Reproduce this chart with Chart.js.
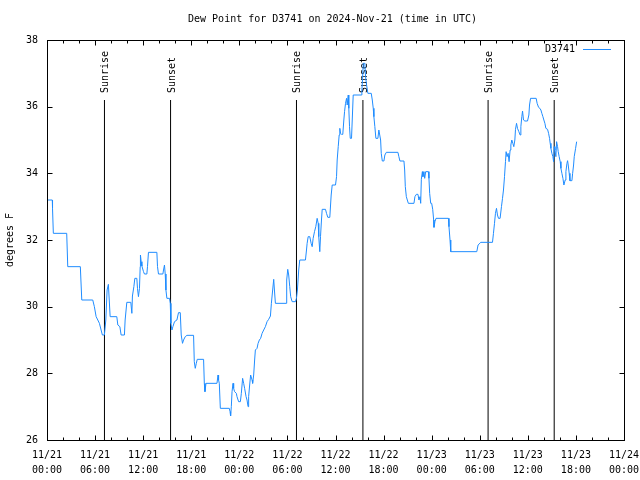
<!DOCTYPE html>
<html><head><meta charset="utf-8">
<script src="https://cdn.jsdelivr.net/npm/chart.js@4/dist/chart.umd.min.js"></script>
<style>html,body{margin:0;padding:0;background:#fff;}#wrap{width:640px;height:480px;}</style>
</head><body><div id="wrap"><canvas id="c" width="640" height="480"></canvas></div>
<script>
// Hours since 2024-11-21 00:00 UTC
const hours = [0.09,0.66,0.69,0.79,2.46,2.59,4.16,4.34,5.71,5.91,6.13,6.34,6.54,6.75,6.91,7.16,7.34,7.5,7.66,7.88,8.71,8.84,9.09,9.25,9.66,9.75,9.96,10.46,10.59,10.66,10.84,10.96,11.21,11.29,11.41,11.54,11.63,
11.66,11.75,11.84,12.04,12.16,12.46,12.54,12.66,13.71,13.79,13.91,14.46,14.54,14.66,14.75,14.84,14.96,15.29,15.38,15.46,15.59,15.71,15.91,16.21,16.41,16.63,16.75,16.91,17.04,17.25,17.46,18.29,18.38,18.5,18.63,18.75,19.54,19.63,19.71,19.84,21.21,21.34,21.41,21.5,21.63,22.75,22.84,22.91,23.0,23.09,23.21,23.29,23.41,23.63,23.71,23.91,24.13,24.25,24.41,24.54,24.66,24.84,24.96,25.09,25.16,25.29,25.41,25.59,25.66,25.79,25.91,26.0,26.21,26.34,26.5,26.66,26.84,27.04,27.25,27.46,27.66,27.88,28.0,28.16,28.29,28.38,28.5,29.84,29.91,30.04,30.16,30.29,30.41,30.59,31.0,31.13,31.25,31.41,31.54,32.25,32.38,32.46,32.59,32.79,32.96,33.09,33.21,33.38,33.54,33.71,33.84,33.91,34.04,34.13,34.25,34.34,34.75,34.88,35.04,35.29,35.46,35.59,36.0,36.13,36.21,36.34,36.46,36.54,36.63,36.75,36.91,37.04,37.13,37.25,37.38,37.46,37.59,37.66,37.75,37.84,38.0,38.09,38.21,39.21,39.29,39.38,39.46,39.66,39.75,39.88,40.04,40.46,40.59,40.71,40.79,40.91,41.04,41.29,41.41,41.63,41.71,41.84,42.04,42.16,42.34,43.79,43.91,44.04,44.54,44.63,44.71,44.84,44.96,45.09,45.79,45.91,46.09,46.29,46.41,46.54,46.63,46.71,46.84,46.91,47.04,47.13,47.25,47.59,47.66,47.75,47.88,48.0,48.13,48.25,48.29,48.41,48.54,50.09,50.16,50.29,50.38,53.63,53.79,54.13,55.59,55.71,55.84,55.96,56.09,56.21,56.34,56.54,56.71,56.84,56.96,57.09,57.21,57.29,57.41,57.54,57.66,57.79,57.88,58.0,58.13,58.25,58.38,58.46,58.59,58.71,58.88,59.04,59.13,59.25,59.34,59.46,59.63,59.96,60.13,60.21,60.34,61.04,61.16,61.34,61.5,61.63,61.75,61.88,62.0,62.13,62.25,62.46,62.59,62.71,62.79,62.88,63.0,63.13,63.21,63.29,63.38,63.5,63.59,63.71,63.79,63.91,64.04,64.13,64.25,64.38,64.5,64.66,64.75,64.88,64.96,65.04,65.16,65.25,65.5,65.59,65.71,65.79,65.96,66.09];
const dewPoint = [33.2,33.2,32.95,32.2,32.2,31.2,31.2,30.2,30.2,30.0,29.7,29.6,29.5,29.3,29.15,29.15,29.6,30.5,30.67,29.7,29.7,29.45,29.4,29.15,29.15,29.6,30.13,30.13,29.8,30.32,30.6,30.85,30.85,30.55,30.3,30.55,31.2,
31.55,31.35,31.22,31.05,30.98,30.98,31.2,31.63,31.63,31.2,30.98,30.98,31.1,31.25,30.98,30.5,30.25,30.25,30.1,29.5,29.3,29.4,29.55,29.6,29.82,29.82,29.15,28.9,29.0,29.1,29.14,29.14,28.35,28.15,28.3,28.42,28.42,27.7,27.45,27.7,27.7,27.95,27.8,27.7,26.95,26.95,26.85,26.72,27.0,27.45,27.7,27.55,27.45,27.4,27.3,27.15,27.15,27.4,27.85,27.7,27.55,27.3,27.2,27.0,27.3,27.65,27.95,27.8,27.7,27.95,28.4,28.7,28.75,28.9,29.0,29.05,29.2,29.3,29.4,29.55,29.62,29.72,30.1,30.5,30.82,30.5,30.1,30.1,30.8,31.12,30.95,30.6,30.3,30.15,30.15,30.25,30.5,31.1,31.4,31.4,31.7,31.9,32.1,32.1,31.9,31.8,32.05,32.25,32.4,32.65,32.5,32.1,31.65,32.1,32.6,32.92,32.92,32.8,32.68,32.68,33.35,33.65,33.65,33.9,34.4,34.8,35.15,35.35,35.2,35.17,35.17,35.6,35.85,36.1,36.25,36.05,36.35,35.95,35.4,35.05,35.05,35.6,36.35,36.35,36.5,36.85,37.3,37.3,36.9,36.65,36.4,36.4,36.2,35.95,35.7,35.4,35.05,35.05,35.3,35.0,34.6,34.37,34.37,34.55,34.63,34.63,34.5,34.37,34.37,34.1,33.6,33.3,33.2,33.1,33.1,33.3,33.37,33.37,33.2,33.3,33.1,33.82,34.05,33.9,34.05,33.85,34.05,34.05,33.85,33.4,33.1,33.1,32.92,32.6,32.38,32.55,32.65,32.65,32.4,32.0,31.65,31.65,31.85,31.93,31.93,32.2,32.5,32.8,32.95,32.75,32.65,32.65,33.0,33.25,33.5,33.9,34.35,34.65,34.5,34.6,34.35,34.7,34.85,35.0,34.9,34.8,35.0,35.32,35.5,35.35,35.25,35.15,35.4,35.7,35.87,35.6,35.57,35.57,35.75,36.05,36.25,36.25,36.1,35.98,35.95,35.9,35.8,35.7,35.6,35.5,35.35,35.32,35.2,35.05,34.9,34.75,34.6,34.5,34.35,34.8,34.7,34.5,34.95,34.8,34.65,34.5,34.35,34.15,34.0,33.85,33.65,33.8,34.05,34.3,34.38,34.25,34.0,33.78,33.78,34.0,34.25,34.5,34.75,34.95];
const seriesName = 'D3741';
const sunEventHours = [7.17, 15.42, 31.13, 39.42, 55.04, 63.29];
const sunEventLabels = ['Sunrise','Sunset','Sunrise','Sunset','Sunrise','Sunset'];
const yTickValues = [26,28,30,32,34,36,38];
const xTickHours = [0,6,12,18,24,30,36,42,48,54,60,66,72];
const xTickDates = ['11/21','11/21','11/21','11/21','11/22','11/22','11/22','11/22','11/23','11/23','11/23','11/23','11/24'];
const xTickTimes = ['00:00','06:00','12:00','18:00','00:00','06:00','12:00','18:00','00:00','06:00','12:00','18:00','00:00'];
const titleText = 'Dew Point for D3741 on 2024-Nov-21 (time in UTC)';
const yTitle = 'degrees F';

const FONT = "'DejaVu Sans Mono', 'Liberation Mono', monospace";
const LINE_COLOR = '#1f8cff';
const SUN_LINE_TOP = 36.2;

const datasets = [{
  label: seriesName,
  data: hours.map((h, i) => ({x: h, y: dewPoint[i]})),
  borderColor: LINE_COLOR, borderWidth: 1, pointRadius: 0, tension: 0, fill: false
}];
sunEventHours.forEach((h, i) => {
  datasets.push({
    label: sunEventLabels[i],
    data: [{x: h, y: 26}, {x: h, y: SUN_LINE_TOP}],
    borderColor: '#000', borderWidth: 1, pointRadius: 0, tension: 0, fill: false
  });
});

const deco = {
  id: 'deco',
  beforeDatasetsDraw(chart) {
    const {ctx, chartArea: a, scales: {x, y}} = chart;
    ctx.save();
    ctx.fillStyle = '#000';
    ctx.font = '10px ' + FONT;
    ctx.textAlign = 'left';
    ctx.textBaseline = 'middle';
    const yb = y.getPixelForValue(SUN_LINE_TOP) - 7;
    sunEventHours.forEach((h, i) => {
      const px = Math.round(x.getPixelForValue(h));
      ctx.save();
      ctx.translate(px + 1, yb);
      ctx.rotate(-Math.PI / 2);
      ctx.fillText(sunEventLabels[i], 0, 0);
      ctx.restore();
    });
    ctx.restore();
  },
  afterDraw(chart) {
    const {ctx, chartArea: a, scales: {x, y}} = chart;
    ctx.save();
    ctx.strokeStyle = '#000';
    ctx.lineWidth = 1;
    const L = Math.round(a.left) + 0.5, R = Math.round(a.right) + 0.5;
    const T = Math.round(a.top) + 0.5, B = Math.round(a.bottom) + 0.5;
    ctx.strokeRect(L, T, R - L, B - T);
    ctx.beginPath();
    for (let h = 0; h <= 72; h += 2) {
      const px = Math.round(x.getPixelForValue(h)) + 0.5;
      const len = (h % 6 === 0) ? 5 : 3;
      ctx.moveTo(px, B); ctx.lineTo(px, B - len);
      ctx.moveTo(px, T); ctx.lineTo(px, T + len);
    }
    yTickValues.forEach(v => {
      const py = Math.round(y.getPixelForValue(v)) + 0.5;
      ctx.moveTo(L, py); ctx.lineTo(L + 5, py);
      ctx.moveTo(R, py); ctx.lineTo(R - 5, py);
    });
    ctx.stroke();
    // title
    ctx.fillStyle = '#000';
    ctx.font = '10px ' + FONT;
    ctx.textAlign = 'center';
    ctx.textBaseline = 'middle';
    ctx.fillText(titleText, (a.left + a.right) / 2 - 3, 19);
    // legend
    ctx.textAlign = 'right';
    ctx.fillText(seriesName, a.right - 49, a.top + 9);
    ctx.strokeStyle = LINE_COLOR;
    ctx.beginPath();
    ctx.moveTo(a.right - 41, Math.round(a.top + 9) + 0.5);
    ctx.lineTo(a.right - 13, Math.round(a.top + 9) + 0.5);
    ctx.stroke();
    ctx.restore();
  }
};

new Chart(document.getElementById('c'), {
  type: 'line',
  data: {datasets},
  options: {
    responsive: false, animation: false, devicePixelRatio: 1,
    layout: {padding: {top: 40, right: 16, left: 0, bottom: 0}},
    plugins: {legend: {display: false}, title: {display: false}, tooltip: {enabled: false}},
    scales: {
      x: {
        type: 'linear', min: 0, max: 72,
        afterBuildTicks: s => { s.ticks = xTickHours.map(v => ({value: v})); },
        afterFit: s => { s.height = 40; s.paddingLeft = 0; s.paddingRight = 0; },
        grid: {display: false, drawTicks: false},
        border: {display: false},
        ticks: {
          maxRotation: 0, autoSkip: false, padding: 8, color: '#000',
          font: {family: FONT, size: 10, lineHeight: 1.5},
          callback: v => { const i = xTickHours.indexOf(v); return i >= 0 ? [xTickDates[i], xTickTimes[i]] : ''; }
        }
      },
      y: {
        min: 26, max: 38,
        afterBuildTicks: s => { s.ticks = yTickValues.map(v => ({value: v})); },
        afterFit: s => { s.width = 47; s.paddingTop = 0; s.paddingBottom = 0; },
        grid: {display: false, drawTicks: false},
        border: {display: false},
        title: {display: true, text: yTitle, color: '#000', font: {family: FONT, size: 10}, padding: {top: 4, bottom: 0}},
        ticks: {padding: 9, color: '#000', font: {family: FONT, size: 10}}
      }
    }
  },
  plugins: [deco]
});
</script></body></html>
